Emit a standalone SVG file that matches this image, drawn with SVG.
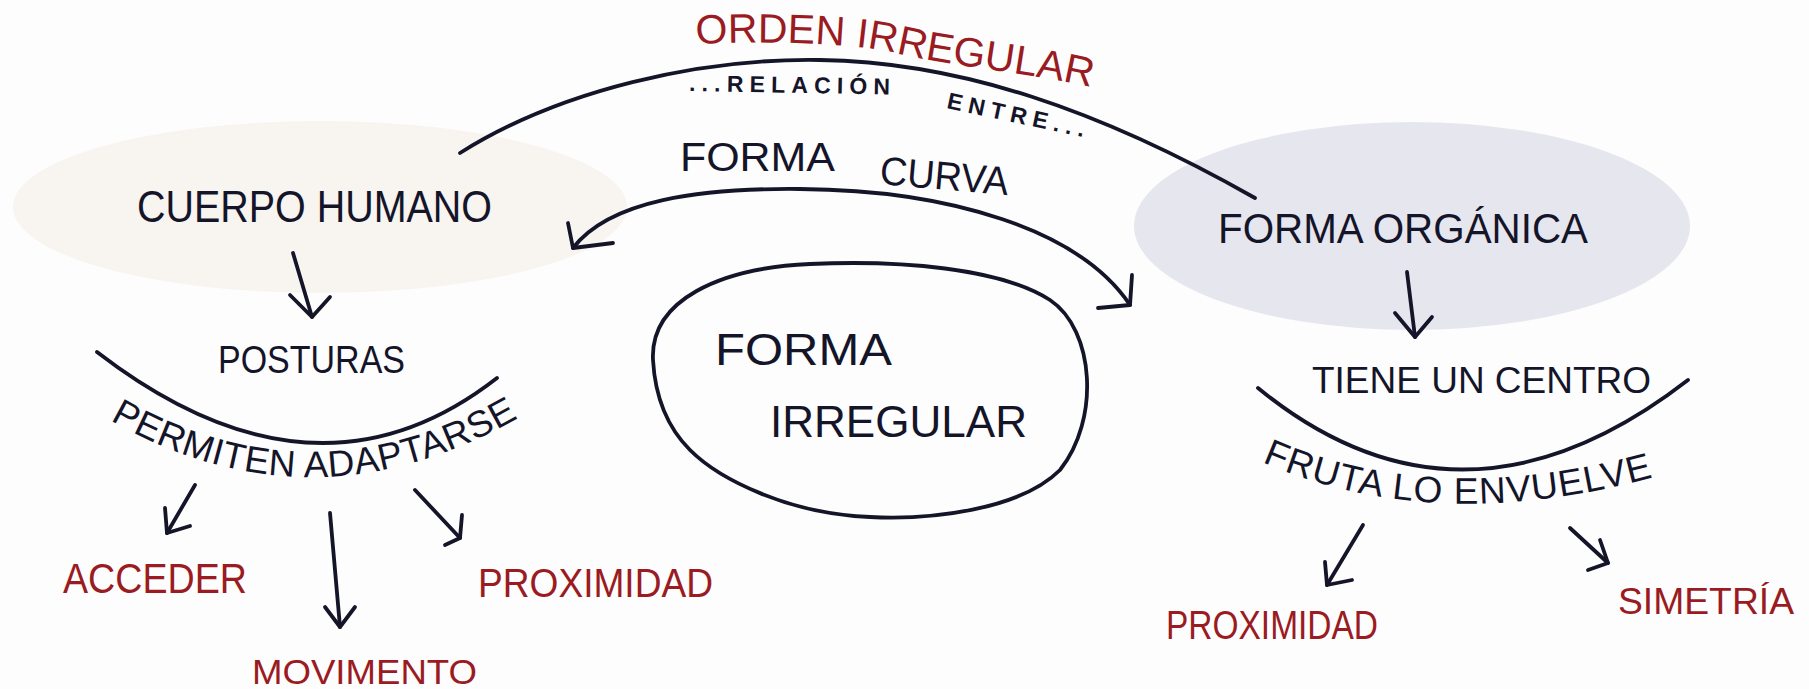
<svg xmlns="http://www.w3.org/2000/svg" width="1809" height="689" viewBox="0 0 1809 689">
<style>
  .ink { fill: none; stroke: #15152a; stroke-width: 3.8; stroke-linecap: round; stroke-linejoin: round; }
  .t { font-family: "Liberation Sans", Arial, sans-serif; fill: #15152a; }
  .r { font-family: "Liberation Sans", Arial, sans-serif; fill: #9a1b22; }
</style>
<defs>
  <path id="p-permiten" d="M110,420 Q320,540 535,408"/>
  <path id="p-fruta" d="M1262,462 Q1440,540 1672,472"/>
  <path id="p-orden" d="M696,44 C780,40 860,44 900,54 S1040,75 1090,87"/>
</defs>
<rect x="0" y="0" width="1809" height="689" fill="#fdfdfd"/>

<g id="cuerpo-humano">
  <ellipse cx="320" cy="207" rx="307" ry="86" fill="#f8f4f0"/>
  <text class="t" x="137" y="222" font-size="44" textLength="355" lengthAdjust="spacingAndGlyphs">CUERPO HUMANO</text>
</g>

<g id="forma-organica">
  <ellipse cx="1412" cy="226" rx="278" ry="104" fill="#e6e6ef"/>
  <text class="t" x="1218" y="243" font-size="42" textLength="370" lengthAdjust="spacingAndGlyphs">FORMA ORGÁNICA</text>
</g>

<g id="forma-irregular">
  <path class="ink" d="M653,360 C650,300 720,268 810,264 C900,260 1000,268 1050,300 C1095,330 1100,420 1060,470 C1020,510 930,520 870,517 C790,514 720,480 690,450 C665,425 655,395 653,360 Z"/>
  <text class="t" x="715" y="365" font-size="45" textLength="177" lengthAdjust="spacingAndGlyphs">FORMA</text>
  <text class="t" x="770" y="437" font-size="44" textLength="257" lengthAdjust="spacingAndGlyphs">IRREGULAR</text>
</g>

<g id="orden-irregular">
  <text class="r" font-size="41"><textPath href="#p-orden">ORDEN IRREGULAR</textPath></text>
</g>

<g id="relacion-entre">
  <text class="t" x="689" y="91" font-size="23" font-weight="bold" textLength="201" lengthAdjust="spacing" transform="rotate(1 689 91)">...RELACIÓN</text>
  <text class="t" x="946" y="108" font-size="23" font-weight="bold" textLength="140" lengthAdjust="spacing" transform="rotate(12 946 108)">ENTRE...</text>
</g>

<g id="forma-curva">
  <text class="t" x="680" y="171" font-size="40" textLength="155" lengthAdjust="spacingAndGlyphs">FORMA</text>
  <text class="t" x="879" y="184" font-size="40" textLength="129" lengthAdjust="spacingAndGlyphs" transform="rotate(5 879 184)">CURVA</text>
</g>

<g id="posturas">
  <text class="t" x="218" y="373" font-size="38" textLength="187" lengthAdjust="spacingAndGlyphs">POSTURAS</text>
  <text class="t" font-size="37" letter-spacing="0.5"><textPath href="#p-permiten">PERMITEN ADAPTARSE</textPath></text>
</g>

<g id="acceder">
  <text class="r" x="63" y="593" font-size="42" textLength="184" lengthAdjust="spacingAndGlyphs">ACCEDER</text>
</g>

<g id="movimento">
  <text class="r" x="252" y="684" font-size="35" textLength="225" lengthAdjust="spacingAndGlyphs">MOVIMENTO</text>
</g>

<g id="proximidad-1">
  <text class="r" x="478" y="597" font-size="40" textLength="235" lengthAdjust="spacingAndGlyphs">PROXIMIDAD</text>
</g>

<g id="tiene-un-centro">
  <text class="t" x="1312" y="393" font-size="36" textLength="339" lengthAdjust="spacingAndGlyphs">TIENE UN CENTRO</text>
  <text class="t" font-size="37" letter-spacing="1"><textPath href="#p-fruta">FRUTA LO ENVUELVE</textPath></text>
</g>

<g id="proximidad-2">
  <text class="r" x="1166" y="639" font-size="40" textLength="212" lengthAdjust="spacingAndGlyphs">PROXIMIDAD</text>
</g>

<g id="simetria">
  <text class="r" x="1618" y="614" font-size="36" textLength="176" lengthAdjust="spacingAndGlyphs">SIMETRÍA</text>
</g>

<g id="connectors">
  <path class="ink" d="M460,153 C560,90 700,58 820,60 C960,62 1100,110 1255,198"/>
  <path class="ink" d="M573,248 C610,200 700,188 800,189 C950,190 1080,230 1130,305"/>
  <path class="ink" d="M568,223 L573,248 L613,243"/>
  <path class="ink" d="M1132,275 L1130,305 L1098,308"/>
  <path class="ink" d="M293,253 L312,317"/>
  <path class="ink" d="M290,295 L312,317 L330,297"/>
  <path class="ink" d="M97,352 Q315,520 497,378"/>
  <path class="ink" d="M195,485 L167,533"/>
  <path class="ink" d="M165,508 L167,533 L190,526"/>
  <path class="ink" d="M330,513 L340,627"/>
  <path class="ink" d="M325,607 L340,627 L355,607"/>
  <path class="ink" d="M415,490 L460,538"/>
  <path class="ink" d="M462,515 L460,538 L445,545"/>
  <path class="ink" d="M1407,272 L1415,337"/>
  <path class="ink" d="M1395,313 L1415,337 L1432,317"/>
  <path class="ink" d="M1258,388 Q1462,555 1688,380"/>
  <path class="ink" d="M1363,525 L1327,585"/>
  <path class="ink" d="M1325,562 L1327,585 L1352,580"/>
  <path class="ink" d="M1570,528 L1608,563"/>
  <path class="ink" d="M1600,540 L1608,563 L1588,570"/>
</g>
</svg>
